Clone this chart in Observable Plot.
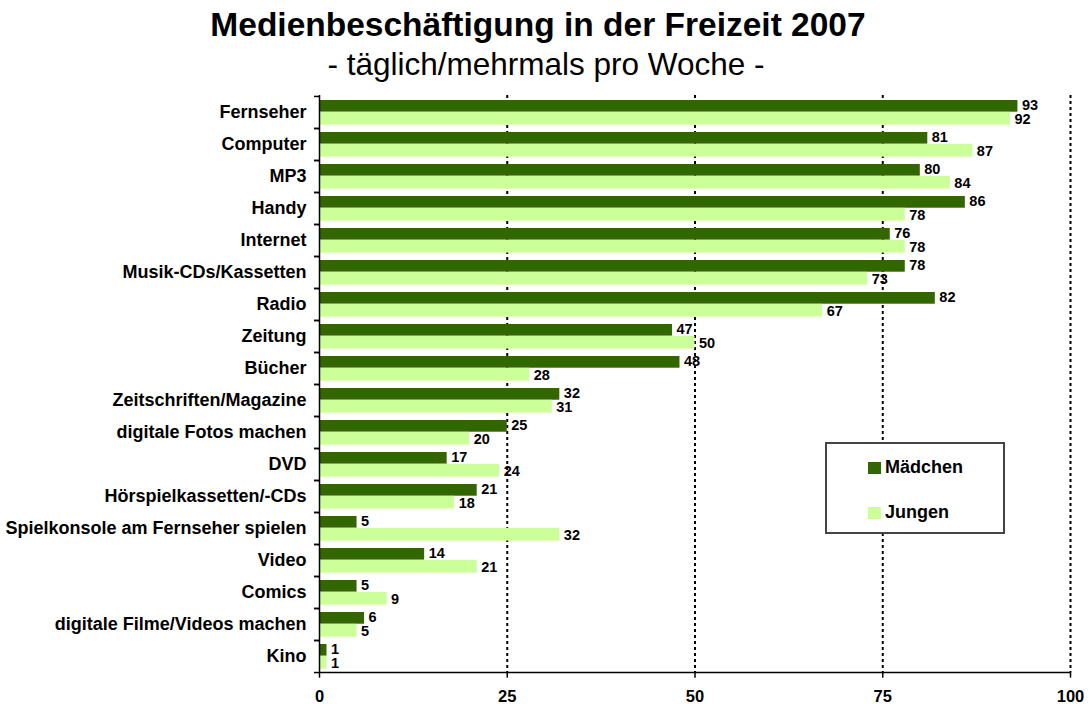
<!DOCTYPE html>
<html><head><meta charset="utf-8">
<script src="https://cdn.jsdelivr.net/npm/d3@7"></script>
<script src="https://cdn.jsdelivr.net/npm/@observablehq/plot@0.6"></script>
<style>
body{margin:0;background:#fff;font-family:"Liberation Sans",Arial,sans-serif;color:#000;}
#wrap{position:relative;width:1092px;height:704px;overflow:hidden;}
#head{position:relative;height:85px;}
#title{position:absolute;left:0;width:1076px;top:8px;text-align:center;font-weight:bold;font-size:33.5px;line-height:33.5px;white-space:nowrap;}
#sub{position:absolute;left:0;width:1092px;top:49px;text-align:center;font-size:31.5px;line-height:31.5px;white-space:nowrap;}
#legend{position:absolute;left:825px;top:442px;width:180px;height:92px;box-sizing:border-box;border:2px solid #444;background:#fff;}
.li{position:absolute;left:41px;font-weight:bold;font-size:18px;line-height:18px;white-space:nowrap;}
.sw{display:inline-block;width:13px;height:12px;margin-right:4px;vertical-align:-1px;}
</style></head>
<body>
<div id="wrap">
  <div id="head">
    <div id="title">Medienbeschäftigung in der Freizeit 2007</div>
    <div id="sub">- täglich/mehrmals pro Woche -</div>
  </div>
  <div id="chart"></div>
  <div id="legend"></div>
</div>
<script>
const categories = ["Fernseher","Computer","MP3","Handy","Internet","Musik-CDs/Kassetten","Radio","Zeitung","Bücher","Zeitschriften/Magazine","digitale Fotos machen","DVD","Hörspielkassetten/-CDs","Spielkonsole am Fernseher spielen","Video","Comics","digitale Filme/Videos machen","Kino"];
const maedchen = [93,81,80,86,76,78,82,47,48,32,25,17,21,5,14,5,6,1];
const jungen   = [92,87,84,78,78,73,67,50,28,31,20,24,18,32,21,9,5,1];
const seriesNames = ["Mädchen","Jungen"];
const seriesColors = ["#336600","#CCFF99"];
const xTicks = [0,25,50,75,100];
const gridTicks = [25,50,75,100];

const dataM = categories.map((c,i)=>({cat:c, value:maedchen[i], series:seriesNames[0]}));
const dataJ = categories.map((c,i)=>({cat:c, value:jungen[i], series:seriesNames[1]}));

const H = 619, mTop = 10, mBottom = 31.3;
const bw = (H - mTop - mBottom) / categories.length;

const chart = Plot.plot({
  width: 1092,
  height: H,
  marginLeft: 319,
  marginRight: 22,
  marginTop: mTop,
  marginBottom: mBottom,
  style: {fontFamily: "'Liberation Sans', Arial, sans-serif", fontWeight: "bold", color: "#000", background: "#fff", overflow: "visible"},
  x: {domain: [0,100], axis: null},
  y: {domain: categories, padding: 0, axis: null},
  marks: [
    Plot.ruleX(gridTicks, {stroke: "#000", strokeWidth: 2, strokeDasharray: "3,3"}),
    Plot.barX(dataM, {x: "value", y: "cat", fill: seriesColors[0], insetTop: 4, insetBottom: bw - 15.8}),
    Plot.barX(dataJ, {x: "value", y: "cat", fill: seriesColors[1], insetTop: 15.8, insetBottom: 3.4}),
    Plot.text(dataM, {x: "value", y: "cat", text: d => String(d.value), textAnchor: "start", dx: 4, dy: -7, fontSize: 14.5, fontWeight: "bold", fill: "#000"}),
    Plot.text(dataJ, {x: "value", y: "cat", text: d => String(d.value), textAnchor: "start", dx: 4, dy: 6.5, fontSize: 14.5, fontWeight: "bold", fill: "#000"}),
    Plot.ruleX([0], {stroke: "#000", strokeWidth: 1.5}),
    Plot.ruleY([categories[categories.length-1]], {dy: bw/2, stroke: "#000", strokeWidth: 1.5}),
    Plot.axisY({tickSize: 0, tickPadding: 13, fontSize: 18, fontWeight: "bold", label: null}),
    Plot.axisY({tickSize: 5, tickFormat: () => "", dy: -bw/2, label: null, strokeWidth: 1.5}),
    Plot.axisY({tickSize: 5, tickFormat: () => "", dy: bw/2, label: null, strokeWidth: 1.5}),
    Plot.axisX({ticks: xTicks, tickSize: 5, tickPadding: 12, fontSize: 16.5, fontWeight: "bold", label: null, strokeWidth: 1.5})
  ]
});
document.getElementById("chart").appendChild(chart);

const legend = document.getElementById("legend");
const tops = [14, 59];
seriesNames.forEach((n,i)=>{
  const d = document.createElement("div");
  d.className = "li";
  d.style.top = tops[i] + "px";
  const s = document.createElement("span");
  s.className = "sw";
  s.style.background = seriesColors[i];
  d.appendChild(s);
  d.appendChild(document.createTextNode(n));
  legend.appendChild(d);
});
</script>
</body></html>
